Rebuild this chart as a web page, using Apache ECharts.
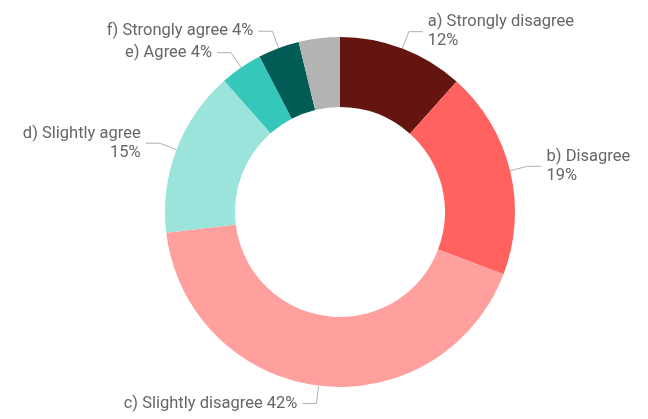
<!DOCTYPE html>
<html>
<head>
<meta charset="utf-8">
<script src="https://cdn.jsdelivr.net/npm/echarts@6/dist/echarts.min.js"></script>
<style>
html,body{margin:0;padding:0;background:#fff;}
#chart{width:648px;height:419px;}
</style>
</head>
<body>
<div id="chart"></div>
<script>
var categories = ["a) Strongly disagree", "b) Disagree", "c) Slightly disagree", "d) Slightly agree", "e) Agree", "f) Strongly agree", "g) Other"];
var values = [11.6, 19.2, 42.3, 15.4, 3.9, 3.8, 3.8];
var colors = ["#641510", "#FF625F", "#FFA09F", "#9AE4DB", "#35C7BA", "#015C55", "#B3B3B3"];
var twoLine = [true, true, false, true, false, false, false];
var showLabel = [true, true, true, true, true, true, false];

var data = categories.map(function (c, i) {
  return {
    name: c,
    value: values[i],
    itemStyle: { color: colors[i] },
    label: { show: showLabel[i] },
    labelLine: { show: showLabel[i] }
  };
});

var chart = echarts.init(document.getElementById('chart'), null, { renderer: 'canvas' });
chart.setOption({
  animation: false,
  series: [{
    type: 'pie',
    center: [340, 212],
    radius: [105, 175],
    startAngle: 90,
    clockwise: true,
    avoidLabelOverlap: false,
    data: data,
    label: {
      show: true,
      color: '#666666',
      fontFamily: 'Roboto',
      fontSize: 16.5,
      lineHeight: 19,
      formatter: function (p) {
        var pct = Math.round(p.percent) + '%';
        return twoLine[p.dataIndex] ? p.name + '\n' + pct : p.name + ' ' + pct;
      }
    },
    labelLine: {
      show: true,
      length: 18,
      length2: 14,
      lineStyle: { color: '#b0b0b0', width: 1 }
    }
  }]
});
</script>
</body>
</html>
